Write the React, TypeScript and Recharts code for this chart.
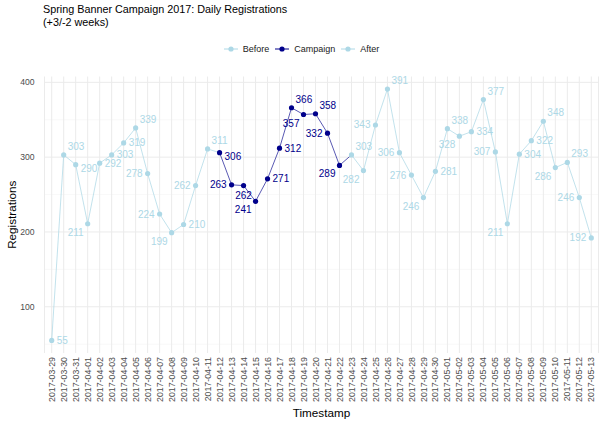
import { LineChart, Line, XAxis, YAxis, CartesianGrid, Legend, LabelList, Label } from 'recharts';

// daily registrations, split by campaign phase
const dates = [
  '2017-03-29', '2017-03-30', '2017-03-31', '2017-04-01', '2017-04-02', '2017-04-03', '2017-04-04',
  '2017-04-05', '2017-04-06', '2017-04-07', '2017-04-08', '2017-04-09', '2017-04-10', '2017-04-11',
  '2017-04-12', '2017-04-13', '2017-04-14', '2017-04-15', '2017-04-16', '2017-04-17', '2017-04-18',
  '2017-04-19', '2017-04-20', '2017-04-21', '2017-04-22', '2017-04-23', '2017-04-24', '2017-04-25',
  '2017-04-26', '2017-04-27', '2017-04-28', '2017-04-29', '2017-04-30', '2017-05-01', '2017-05-02',
  '2017-05-03', '2017-05-04', '2017-05-05', '2017-05-06', '2017-05-07', '2017-05-08', '2017-05-09',
  '2017-05-10', '2017-05-11', '2017-05-12', '2017-05-13',
];
const beforeValues = [55, 303, 290, 211, 292, 303, 319, 339, 278, 224, 199, 210, 262, 311];
const campaignValues = [306, 263, 262, 241, 271, 312, 366, 357, 358, 332, 289];
const afterValues = [
  303, 282, 343, 391, 306, 276, 246, 281, 338, 328, 334, 377, 307, 211, 304, 322, 348, 286, 293, 246, 192,
];
const yTicks = [100, 200, 300, 400];
const yMinor = [50, 150, 250, 350];

const LIGHT = '#add8e6';
const DARK = '#00008b';
const FONT = '"Liberation Sans", Arial, Helvetica, sans-serif';

const phases = ['Before', 'Campaign', 'After'];
const allValues = [...beforeValues, ...campaignValues, ...afterValues];
const phaseOf = (i: number) =>
  i < beforeValues.length ? 'Before' : i < beforeValues.length + campaignValues.length ? 'Campaign' : 'After';

// each segment takes the colour of the point it starts from (ggplot group = 1)
const rows = dates.map((date, i) => {
  const phase = phaseOf(i);
  const prevPhase = i > 0 ? phaseOf(i - 1) : phase;
  const row: any = { date, phase, value: allValues[i] };
  phases.forEach((p) => {
    row[p] = p === phase || p === prevPhase ? allValues[i] : null;
  });
  return row;
});

// crude stand-in for ggrepel: peaks up, troughs down, slopes to the side
const labelSpot = (i: number) => {
  const v = allValues[i];
  const p = allValues[i - 1];
  const n = allValues[i + 1];
  if (p === undefined) return { dx: 5, dy: 3.5, anchor: 'start' };
  if (n === undefined) return { dx: -5, dy: 3.5, anchor: 'end' };
  if (v >= p && v >= n) return { dx: 4, dy: -5, anchor: 'start' };
  if (v <= p && v <= n) return { dx: -4, dy: 12, anchor: 'end' };
  if (v > p) {
    return v - p > 45 && n - v > 45 ? { dx: -5, dy: 3.5, anchor: 'end' } : { dx: 5, dy: 3.5, anchor: 'start' };
  }
  if (p - v < 15) {
    return v - n > 30 ? { dx: 5, dy: 7, anchor: 'start' } : { dx: 0, dy: 13, anchor: 'middle' };
  }
  return { dx: -5, dy: 3.5, anchor: 'end' };
};

const makeLabel = (phase: string, color: string) => (props: any) => {
  const { x, y, index } = props;
  if (x == null || y == null || rows[index].phase !== phase) return null;
  const s = labelSpot(index);
  return (
    <text
      key={`lbl-${phase}-${index}`}
      x={x + s.dx}
      y={y + s.dy}
      textAnchor={s.anchor}
      fontSize={10}
      fontFamily={FONT}
      fill={color}
    >
      {allValues[index]}
    </text>
  );
};

const makeDot = (phase: string, color: string) => (props: any) => {
  const { cx, cy, index } = props;
  if (cx == null || cy == null || rows[index].phase !== phase) return <g key={`dot-${phase}-${index}`} />;
  return <circle key={`dot-${phase}-${index}`} cx={cx} cy={cy} r={2.6} fill={color} />;
};

const DateTick = (props: any) => {
  const { x, y, payload } = props;
  return (
    <text
      x={x}
      y={y}
      dy="0.35em"
      transform={`rotate(-90, ${x}, ${y})`}
      textAnchor="end"
      fontSize={8.8}
      fontFamily={FONT}
      fill="#4d4d4d"
    >
      {payload.value}
    </text>
  );
};

const LegendRow = (props: any) => {
  const items = [...(props.payload || [])].sort(
    (a: any, b: any) => phases.indexOf(a.value) - phases.indexOf(b.value),
  );
  return (
    <div style={{ display: 'flex', justifyContent: 'center', fontFamily: FONT, fontSize: 9, color: '#1a1a1a' }}>
      {items.map((entry: any) => (
        <div key={entry.value} style={{ display: 'flex', alignItems: 'center', marginLeft: 3, marginRight: 3 }}>
          <svg width={14} height={12} style={{ marginRight: 5 }}>
            <line x1={0} y1={6} x2={14} y2={6} stroke={entry.color} strokeWidth={1} />
            <circle cx={7} cy={6} r={2.6} fill={entry.color} />
          </svg>
          <span>{entry.value}</span>
        </div>
      ))}
    </div>
  );
};

const colorOf: Record<string, string> = { Before: LIGHT, Campaign: DARK, After: LIGHT };

export default function App() {
  return (
    <div style={{ position: 'absolute', left: 0, top: 0, width: 600, height: 425, background: '#fff' }}>
      <div
        style={{
          position: 'absolute',
          left: 43,
          top: 3,
          fontFamily: FONT,
          fontSize: 10.8,
          lineHeight: '13px',
          color: '#000',
        }}
      >
        Spring Banner Campaign 2017: Daily Registrations
        <br />
        (+3/-2 weeks)
      </div>
      <LineChart
        width={600}
        height={425}
        data={rows}
        margin={{ top: 64.5, right: 1.5, left: 4.5, bottom: 4 }}
      >
        <CartesianGrid horizontalValues={yMinor} vertical={false} stroke="#f3f3f3" strokeWidth={0.6} />
        <CartesianGrid horizontalValues={yTicks} stroke="#ebebeb" strokeWidth={1} />
        <XAxis
          dataKey="date"
          interval={0}
          padding={{ left: 7.2, right: 7.2 }}
          height={68}
          tickLine={false}
          axisLine={false}
          tick={<DateTick />}
          tickSize={2}
          tickMargin={2}
        >
          <Label value="Timestamp" position="insideBottom" offset={4} fontSize={11.7} fontFamily={FONT} fill="#000" />
        </XAxis>
        <YAxis
          domain={[38.2, 407.8]}
          ticks={yTicks}
          allowDataOverflow
          width={40}
          tickLine={false}
          axisLine={false}
          tickMargin={4}
          tick={{ fontSize: 8.6, fontFamily: FONT, fill: '#4d4d4d' }}
        >
          <Label
            value="Registrations"
            angle={-90}
            position="insideLeft"
            offset={7}
            fontSize={11.7}
            fontFamily={FONT}
            fill="#000"
            style={{ textAnchor: 'middle' }}
          />
        </YAxis>
        <Legend verticalAlign="top" content={<LegendRow />} wrapperStyle={{ top: 43 }} />
        {phases.map((p) => (
          <Line
            key={p}
            dataKey={p}
            name={p}
            type="linear"
            stroke={colorOf[p]}
            strokeOpacity={p === 'Campaign' ? 0.65 : 0.75}
            strokeWidth={1}
            dot={makeDot(p, colorOf[p])}
            activeDot={false}
            connectNulls={false}
            isAnimationActive={false}
          >
            <LabelList dataKey={p} content={makeLabel(p, colorOf[p])} />
          </Line>
        ))}
      </LineChart>
    </div>
  );
}
